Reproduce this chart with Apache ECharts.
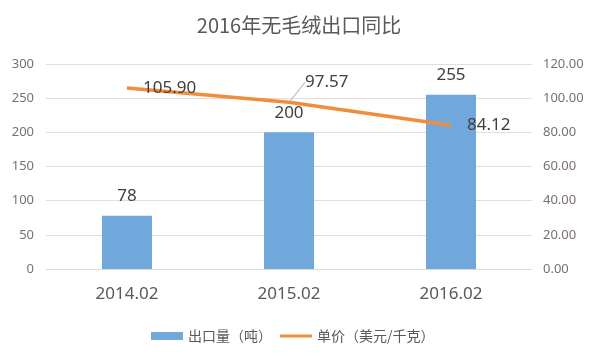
<!DOCTYPE html>
<html>
<head>
<meta charset="utf-8">
<script src="https://cdn.jsdelivr.net/npm/echarts@6/dist/echarts.min.js"></script>
<style>
html,body{margin:0;padding:0;background:#fff;}
#main{width:598px;height:359px;}
</style>
</head>
<body>
<div id="main"></div>
<script>
var titleText = '2016年无毛绒出口同比';
var categories = ['2014.02', '2015.02', '2016.02'];
var volumeName = '出口量（吨）';
var priceName = '单价（美元/千克）';
var volumeValues = [78, 200, 255];
var priceValues = [105.90, 97.57, 84.12];
var leftTicks = {min: 0, max: 300, interval: 50};
var rightTicks = {min: 0, max: 120, interval: 20};

var font = '"Noto Sans", "Noto Sans CJK SC", sans-serif';
var priceData = priceValues.map(function (v, i) {
  var d = {value: v};
  if (i === 1) {
    d.labelLine = {show: true, lineStyle: {color: '#a6a6a6', width: 1}};
  }
  return d;
});

var chart = echarts.init(document.getElementById('main'), null, {renderer: 'canvas'});
chart.setOption({
  backgroundColor: '#ffffff',
  animation: false,
  textStyle: {fontFamily: font},
  title: {
    text: titleText,
    left: 'center',
    top: 10,
    textStyle: {fontFamily: '"Noto Sans CJK SC", sans-serif', fontSize: 20, fontWeight: 'normal', color: '#595959'}
  },
  legend: {
    left: 146,
    top: 324,
    itemGap: 8,
    itemWidth: 32,
    itemHeight: 8,
    textStyle: {fontFamily: '"Noto Sans CJK SC", sans-serif', fontSize: 14, color: '#595959'},
    data: [
      {name: volumeName, icon: 'rect'},
      {name: priceName, icon: 'path://M0,0H32V3H0Z'}
    ]
  },
  grid: {left: 46, right: 66, top: 64, bottom: 90, containLabel: false},
  xAxis: {
    type: 'category',
    data: categories,
    axisLine: {show: true, lineStyle: {color: '#d9d9d9'}},
    axisTick: {show: false},
    axisLabel: {color: '#595959', fontSize: 17, margin: 17, fontFamily: font}
  },
  yAxis: [
    {
      type: 'value',
      min: leftTicks.min, max: leftTicks.max, interval: leftTicks.interval,
      axisLine: {show: false}, axisTick: {show: false},
      splitLine: {lineStyle: {color: '#e3dede'}},
      axisLabel: {color: '#7a6f6f', fontSize: 13, margin: 12, fontFamily: font}
    },
    {
      type: 'value',
      min: rightTicks.min, max: rightTicks.max, interval: rightTicks.interval,
      axisLine: {show: false}, axisTick: {show: false},
      splitLine: {show: false},
      axisLabel: {color: '#7a6f6f', fontSize: 13, margin: 11, fontFamily: font,
        formatter: function (v) { return v.toFixed(2); }}
    }
  ],
  series: [
    {
      name: volumeName,
      type: 'bar',
      data: volumeValues,
      barWidth: 50,
      itemStyle: {color: '#70a8db'},
      label: {show: true, position: 'top', distance: 11, fontSize: 17, color: '#404040', fontFamily: font}
    },
    {
      name: priceName,
      type: 'line',
      yAxisIndex: 1,
      data: priceData,
      symbol: 'circle',
      symbolSize: 0.1,
      showSymbol: true,
      lineStyle: {color: '#f08c3a', width: 3.5},
      itemStyle: {color: '#f08c3a'},
      label: {show: true, position: 'right', distance: 16, fontSize: 17, color: '#404040', fontFamily: font,
        formatter: function (p) { return Number(p.value).toFixed(2); }},
      labelLayout: function (p) {
        if (p.dataIndex === 1) { return {dx: 0, dy: -20, hideOverlap: false}; }
        return {hideOverlap: false};
      },
      z: 5
    }
  ]
});
</script>
</body>
</html>
